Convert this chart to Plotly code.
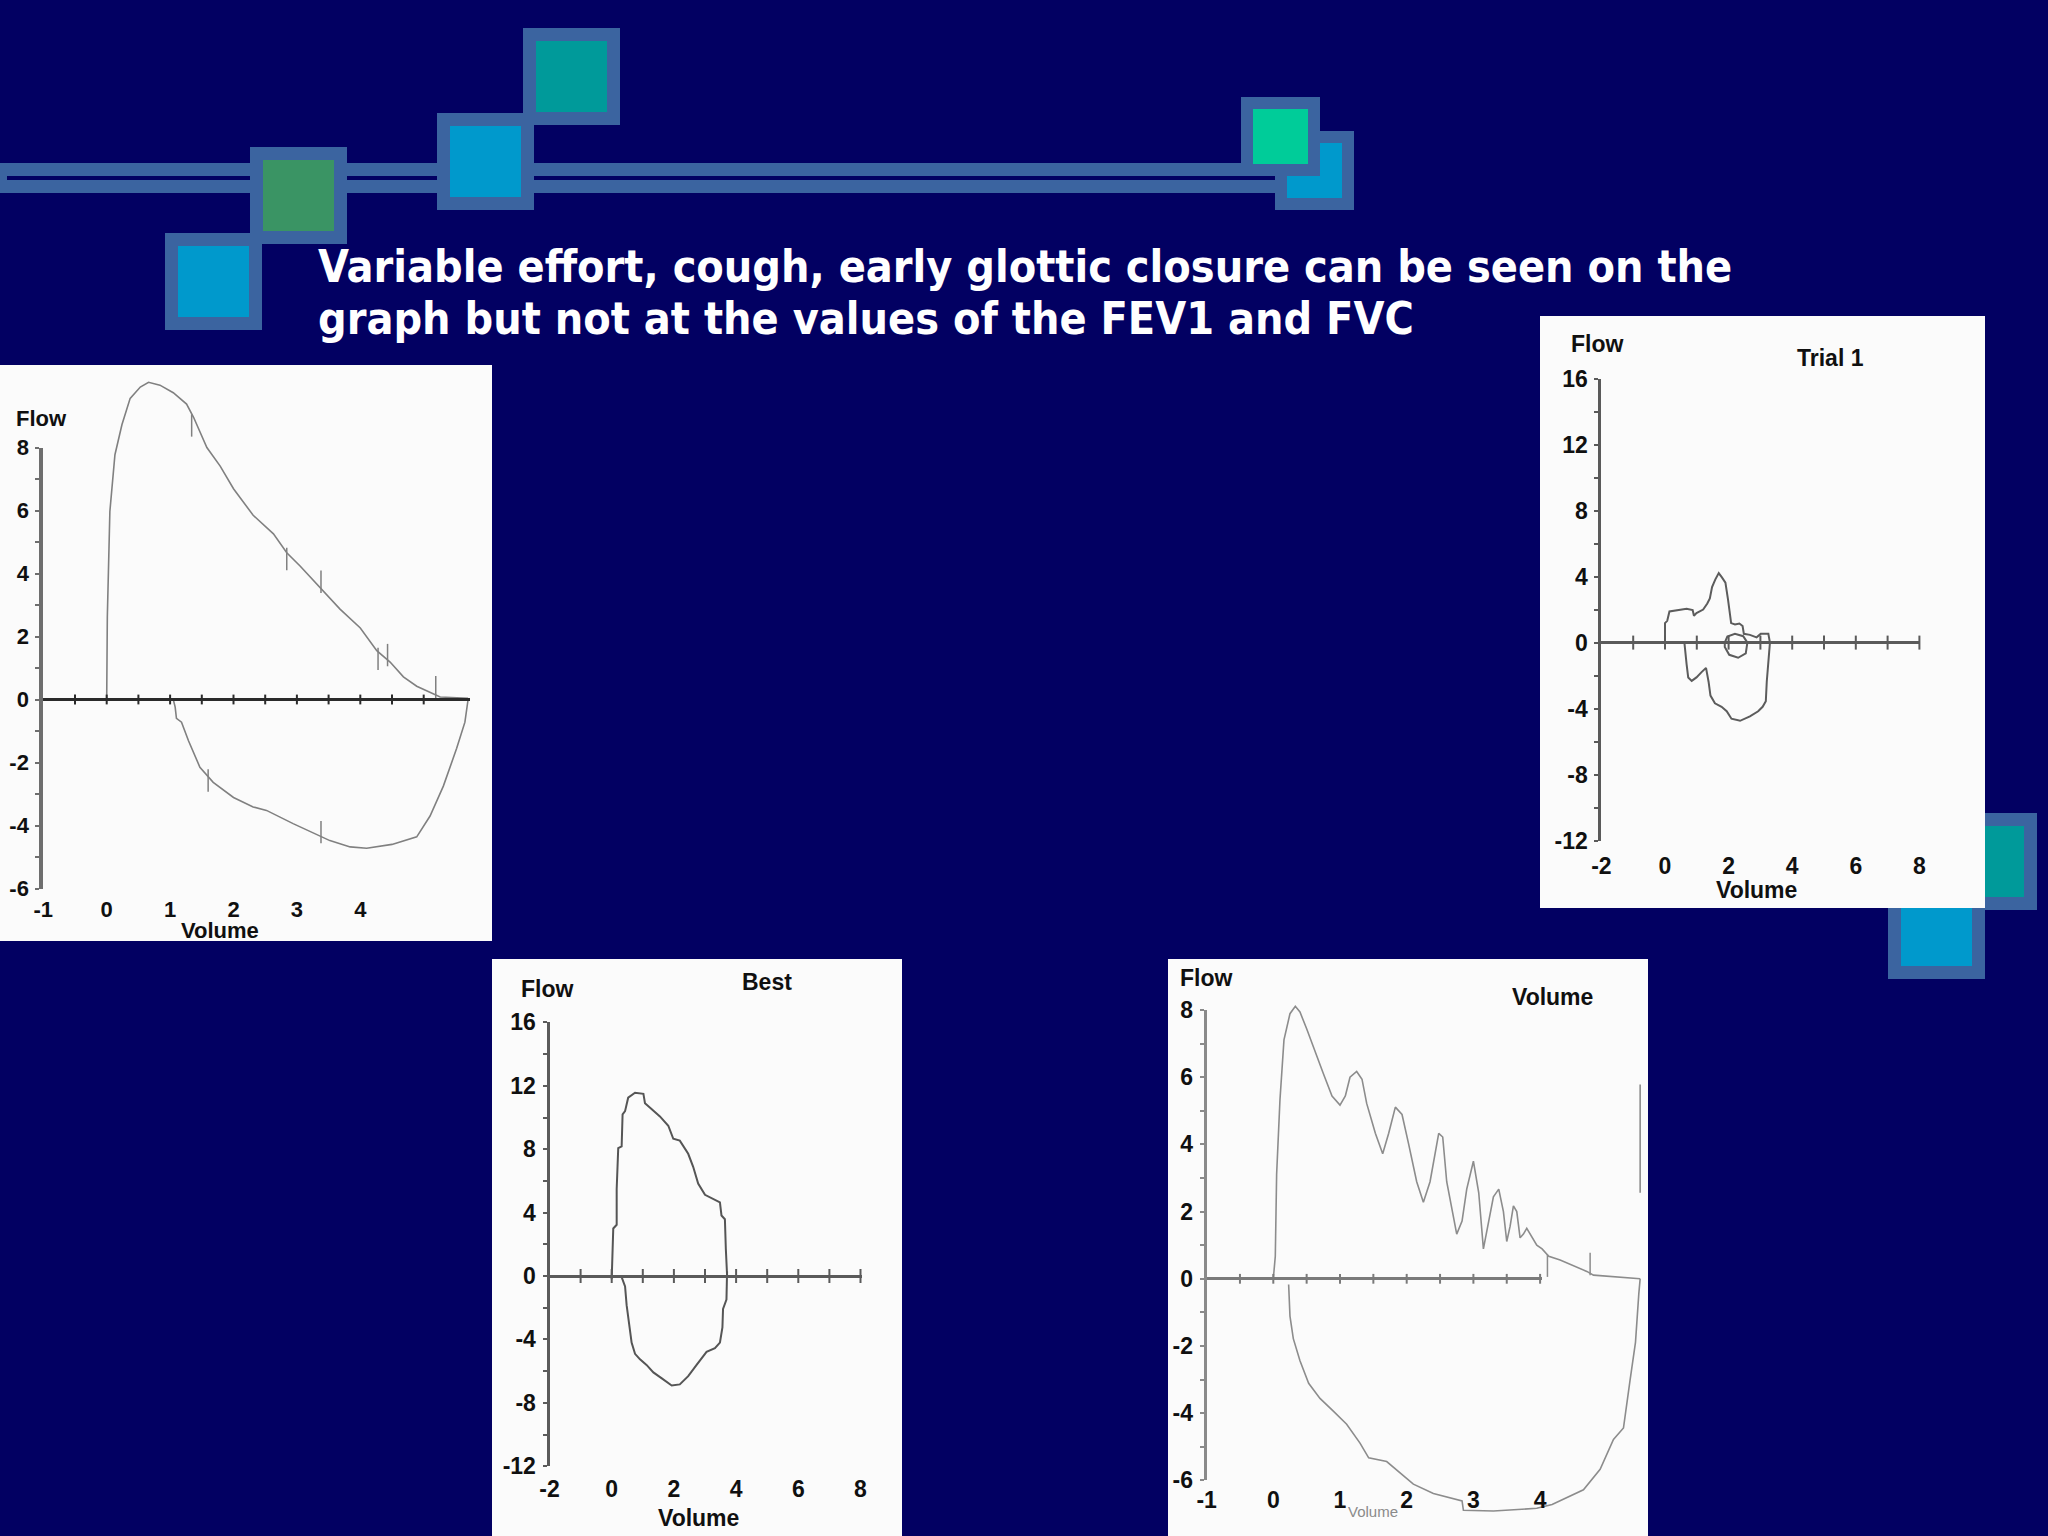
import plotly.graph_objects as go

# ---------------- data ----------------
# Panel A (top-left): flow-volume loop
A_exp_vol = [0, 0.01, 0.05, 0.13, 0.24, 0.37, 0.53, 0.66, 0.84, 1.05, 1.26, 1.37, 1.58, 1.79, 2.0, 2.31, 2.63,
             2.84, 3.05, 3.36, 3.68, 4.0, 4.26, 4.47, 4.68, 4.89, 5.15, 5.26, 5.7]
A_exp_flow = [0, 2.63, 5.97, 7.77, 8.72, 9.56, 9.92, 10.07, 9.98, 9.74, 9.38, 8.96, 8.0, 7.41, 6.69, 5.85, 5.26,
              4.66, 4.24, 3.58, 2.87, 2.27, 1.55, 1.19, 0.72, 0.42, 0.18, 0.08, 0.04]
A_insp_vol = [1.05, 1.08, 1.1, 1.18, 1.29, 1.37, 1.47, 1.68, 2.0, 2.31, 2.52, 2.94, 3.26, 3.52, 3.84, 4.1, 4.5,
              4.89, 5.1, 5.31, 5.52, 5.65, 5.7]
A_insp_flow = [0, -0.24, -0.6, -0.72, -1.31, -1.67, -2.15, -2.63, -3.11, -3.41, -3.52, -3.94, -4.24, -4.48, -4.68,
               -4.72, -4.6, -4.36, -3.7, -2.75, -1.55, -0.72, 0.0]
A_mark_vol = [1.34, 2.84, 3.38, 4.28, 4.43, 5.19, 1.60, 3.38]
A_mark_flow = [8.70, 4.46, 3.74, 1.29, 1.41, 0.39, -2.57, -4.21]

# Panel B (Trial 1)
B_exp_vol = [0.0, 0.0, 0.07, 0.14, 0.68, 0.87, 0.91, 0.99, 1.2, 1.33, 1.41, 1.48, 1.58, 1.69, 1.79, 1.9, 1.98,
             2.04, 2.08, 2.2, 2.34, 2.44, 2.48, 2.67, 2.88, 3.01, 3.25, 3.3]
B_exp_flow = [-0.13, 1.18, 1.32, 1.89, 2.05, 1.97, 1.63, 1.79, 2.0, 2.37, 2.68, 3.37, 3.82, 4.21, 3.95, 3.63, 2.63,
              1.84, 1.18, 1.1, 1.16, 1.0, 0.53, 0.47, 0.32, 0.53, 0.53, 0.0]
B_insp_vol = [3.3, 3.25, 3.2, 3.17, 3.07, 2.93, 2.67, 2.36, 2.09, 1.94, 1.78, 1.57, 1.43, 1.37, 1.29, 1.15, 0.99,
              0.84, 0.73, 0.68, 0.63, 0.61]
B_insp_flow = [0, -1.05, -2.37, -3.55, -3.89, -4.16, -4.47, -4.74, -4.61, -4.16, -3.89, -3.68, -3.21, -2.37, -1.53,
               -1.79, -2.11, -2.32, -2.11, -1.32, -0.26, 0]
B_cough_vol = [1.88, 1.96, 2.2, 2.46, 2.59, 2.54, 2.3, 2.02, 1.88, 1.88]
B_cough_flow = [0, 0.37, 0.53, 0.39, 0, -0.66, -0.92, -0.74, -0.26, 0]

# Panel C (Best)
C_exp_vol = [0, 0.02, 0.05, 0.16, 0.16, 0.21, 0.32, 0.35, 0.43, 0.53, 0.75, 1.02, 1.07, 1.28, 1.55, 1.82, 1.98,
             2.19, 2.46, 2.62, 2.78, 3.0, 3.26, 3.48, 3.53, 3.64, 3.67, 3.71]
C_exp_flow = [-0.2, 1.23, 3.0, 3.23, 5.47, 8.07, 8.18, 10.2, 10.4, 11.25, 11.56, 11.49, 10.9, 10.54, 10.07, 9.48,
              8.66, 8.54, 7.71, 6.89, 5.83, 5.12, 4.88, 4.65, 3.82, 3.58, 1.7, 0.05]
C_insp_vol = [0.32, 0.43, 0.48, 0.57, 0.64, 0.75, 0.91, 1.12, 1.34, 1.6, 1.93, 2.19, 2.46, 2.73, 3.05, 3.32, 3.48,
              3.56, 3.58, 3.69, 3.71, 3.71]
C_insp_flow = [-0.07, -0.66, -1.84, -3.02, -4.2, -4.91, -5.26, -5.61, -6.08, -6.44, -6.91, -6.84, -6.32, -5.61,
               -4.79, -4.55, -4.2, -3.25, -2.08, -1.49, -0.19, 0.28]

# Panel D (Volume)
D_exp_vol = [0, 0.03, 0.05, 0.1, 0.16, 0.25, 0.33, 0.4, 0.5, 0.63, 0.75, 0.88, 1.0, 1.08, 1.15, 1.25, 1.33, 1.4,
             1.53, 1.64, 1.73, 1.83, 1.93, 2.03, 2.15, 2.25, 2.35, 2.48, 2.54, 2.6, 2.7, 2.75, 2.83, 2.9, 3.0,
             3.08, 3.15, 3.23, 3.3, 3.38, 3.45, 3.5, 3.55, 3.6, 3.65, 3.7, 3.75, 3.8, 3.88, 3.95, 4.03, 4.13,
             4.3, 4.5, 4.7, 4.8, 5.1, 5.5]
D_exp_flow = [0, 0.67, 3.11, 5.33, 7.11, 7.89, 8.11, 7.94, 7.44, 6.78, 6.11, 5.44, 5.17, 5.44, 6.0, 6.17, 5.94,
              5.22, 4.33, 3.72, 4.33, 5.11, 4.89, 4.0, 2.89, 2.28, 2.89, 4.33, 4.22, 2.89, 1.78, 1.33, 1.72, 2.67,
              3.5, 2.56, 0.89, 1.78, 2.44, 2.67, 2.0, 1.11, 1.56, 2.17, 2.0, 1.22, 1.33, 1.5, 1.22, 1.0, 0.89,
              0.67, 0.56, 0.39, 0.22, 0.11, 0.06, 0]
D_insp_vol = [0.23, 0.25, 0.3, 0.4, 0.53, 0.7, 0.9, 1.1, 1.3, 1.43, 1.7, 1.9, 2.1, 2.4, 2.83, 2.85, 3.3, 3.95,
              4.18, 4.65, 4.9, 5.1, 5.25, 5.35, 5.43, 5.48, 5.5]
D_insp_flow = [-0.17, -1.11, -1.78, -2.44, -3.11, -3.56, -3.94, -4.33, -4.89, -5.33, -5.44, -5.78, -6.11, -6.39,
               -6.61, -6.89, -6.91, -6.83, -6.72, -6.28, -5.67, -4.78, -4.44, -3.0, -1.89, -0.44, 0]
D_spike_vol = [5.5, 5.5]
D_spike_flow = [5.78, 2.56]
D_mark_vol = [4.11, 4.75]
D_mark_flow = [0.39, 0.44]

# Axis ticks / labels
A_xtick_vals = [-1, 0, 1, 2, 3, 4]
A_xtick_text = ["-1", "0", "1", "2", "3", "4"]
A_xmarks = [-0.5, 0, 0.5, 1, 1.5, 2, 2.5, 3, 3.5, 4, 4.5, 5]
A_ytick_vals = [-6, -4, -2, 0, 2, 4, 6, 8]
A_ytick_text = ["-6", "-4", "-2", "0", "2", "4", "6", "8"]
A_yminor = [-5, -3, -1, 1, 3, 5, 7]

B_xtick_vals = [-2, 0, 2, 4, 6, 8]
B_xtick_text = ["-2", "0", "2", "4", "6", "8"]
B_xmarks = [-1, 0, 1, 2, 3, 4, 5, 6, 7, 8]
B_ytick_vals = [-12, -8, -4, 0, 4, 8, 12, 16]
B_ytick_text = ["-12", "-8", "-4", "0", "4", "8", "12", "16"]
B_yminor = [-10, -6, -2, 2, 6, 10, 14]

C_xtick_vals = [-2, 0, 2, 4, 6, 8]
C_xtick_text = ["-2", "0", "2", "4", "6", "8"]
C_xmarks = [-1, 0, 1, 2, 3, 4, 5, 6, 7, 8]
C_ytick_vals = [-12, -8, -4, 0, 4, 8, 12, 16]
C_ytick_text = ["-12", "-8", "-4", "0", "4", "8", "12", "16"]
C_yminor = [-10, -6, -2, 2, 6, 10, 14]

D_xtick_vals = [-1, 0, 1, 2, 3, 4]
D_xtick_text = ["-1", "0", "1", "2", "3", "4"]
D_xmarks = [-0.5, 0, 0.5, 1, 1.5, 2, 2.5, 3, 3.5, 4]
D_ytick_vals = [-6, -4, -2, 0, 2, 4, 6, 8]
D_ytick_text = ["-6", "-4", "-2", "0", "2", "4", "6", "8"]
D_yminor = [-5, -3, -1, 1, 3, 5, 7]

TITLE_1 = "Variable effort, cough, early glottic closure can be seen on the"
TITLE_2 = "graph but not at the values of the FEV1 and FVC"

# ---------------- geometry / style ----------------
W, H = 2048, 1536
NAVY = "#020062"
BORDER = "#3b64a0"
PANEL = "#fbfbfb"


def px(x):
    return x / W


def py(y):
    return 1 - y / H


LABEL_FONT = "Liberation Sans, Arial, sans-serif"

panels = [
    dict(rect=(0, 365, 492, 941), X0=106.7, sx=63.4, Y0=699.5, sy=31.5, xax=(-1, 5.73), yax=(-6, 8),
         xv=A_xtick_vals, xt=A_xtick_text, xm=A_xmarks, yv=A_ytick_vals, yt=A_ytick_text, ym=A_yminor,
         fs=22, ylw=4, ylc="#6e6e6e", zlw=3, zlc="#2a2a2a", mk=7, xstand=5),
    dict(rect=(1540, 316, 1985, 908), X0=1665, sx=31.8, Y0=642.6, sy=16.5, xax=(-2, 8), yax=(-12, 16),
         xv=B_xtick_vals, xt=B_xtick_text, xm=B_xmarks, yv=B_ytick_vals, yt=B_ytick_text, ym=B_yminor,
         fs=23, ylw=3, ylc="#5a5a5a", zlw=3, zlc="#5a5a5a", mk=10, xstand=9),
    dict(rect=(492, 959, 902, 1536), X0=611.7, sx=31.1, Y0=1276, sy=15.85, xax=(-2, 8.05), yax=(-12, 16),
         xv=C_xtick_vals, xt=C_xtick_text, xm=C_xmarks, yv=C_ytick_vals, yt=C_ytick_text, ym=C_yminor,
         fs=23, ylw=3, ylc="#5a5a5a", zlw=3, zlc="#5a5a5a", mk=10, xstand=7),
    dict(rect=(1168, 959, 1648, 1536), X0=1273.3, sx=66.7, Y0=1278.8, sy=33.6, xax=(-1, 4.03), yax=(-6, 8),
         xv=D_xtick_vals, xt=D_xtick_text, xm=D_xmarks, yv=D_ytick_vals, yt=D_ytick_text, ym=D_yminor,
         fs=23, ylw=3, ylc="#8a8a8a", zlw=3, zlc="#7a7a7a", mk=7, xstand=4),
]

fig = go.Figure()
layout = dict(width=W, height=H, margin=dict(l=0, r=0, t=0, b=0), paper_bgcolor=NAVY,
              plot_bgcolor="rgba(0,0,0,0)", showlegend=False, template="none")

for i, p in enumerate(panels):
    n = i + 1          # data subplot
    m = i + 5          # axis-display subplot
    L, T, R, B = p["rect"]
    X0, sx, Y0, sy = p["X0"], p["sx"], p["Y0"], p["sy"]
    sfx_n = "" if n == 1 else str(n)
    layout["xaxis" + sfx_n] = dict(domain=[px(L), px(R)], range=[(L - X0) / sx, (R - X0) / sx],
                                   visible=False, anchor="y" + sfx_n, fixedrange=True)
    layout["yaxis" + sfx_n] = dict(domain=[py(B), py(T)], range=[(Y0 - B) / sy, (Y0 - T) / sy],
                                   visible=False, anchor="x" + sfx_n, fixedrange=True)
    xa0, xa1 = p["xax"]
    ya0, ya1 = p["yax"]
    tf = dict(family=LABEL_FONT, size=p["fs"], color="#101010", weight="bold")
    layout["xaxis" + str(m)] = dict(domain=[px(X0 + xa0 * sx), px(X0 + xa1 * sx)], range=[xa0, xa1],
                                    anchor="y" + str(m), showline=False, showgrid=False, zeroline=False,
                                    tickmode="array", tickvals=p["xv"], ticktext=p["xt"], ticks="",
                                    tickfont=tf, ticklabelstandoff=p["xstand"], fixedrange=True,
                                    automargin=False)
    layout["yaxis" + str(m)] = dict(domain=[py(Y0 - ya0 * sy), py(Y0 - ya1 * sy)], range=[ya0, ya1],
                                    anchor="x" + str(m), showline=True, linecolor=p["ylc"],
                                    linewidth=p["ylw"], showgrid=False, zeroline=True,
                                    zerolinecolor=p["zlc"], zerolinewidth=p["zlw"],
                                    tickmode="array", tickvals=p["yv"], ticktext=p["yt"],
                                    ticks="outside", ticklen=4, tickwidth=2, tickcolor=p["ylc"],
                                    minor=dict(tickvals=p["ym"], ticks="outside", ticklen=4, tickwidth=2,
                                               tickcolor=p["ylc"]),
                                    tickfont=tf, ticklabelstandoff=2, fixedrange=True, automargin=False)
    fig.add_trace(go.Scatter(x=p["xm"], y=[0] * len(p["xm"]), mode="markers",
                             marker=dict(symbol="line-ns", size=p["mk"],
                                         line=dict(width=2, color=p["zlc"])),
                             xaxis="x" + str(m), yaxis="y" + str(m), cliponaxis=False,
                             hoverinfo="skip"))


def curve(x, y, n, color, width):
    sfx = "" if n == 1 else str(n)
    fig.add_trace(go.Scatter(x=x, y=y, mode="lines", line=dict(color=color, width=width),
                             xaxis="x" + sfx, yaxis="y" + sfx, hoverinfo="skip"))


def marks(x, y, n, color, size):
    sfx = "" if n == 1 else str(n)
    fig.add_trace(go.Scatter(x=x, y=y, mode="markers",
                             marker=dict(symbol="line-ns", size=size, line=dict(width=1.5, color=color)),
                             xaxis="x" + sfx, yaxis="y" + sfx, hoverinfo="skip"))


CA, CB, CC, CD = "#808080", "#5c5c5c", "#555555", "#8c8c8c"
curve(A_exp_vol, A_exp_flow, 1, CA, 1.6)
curve(A_insp_vol, A_insp_flow, 1, CA, 1.6)
marks(A_mark_vol, A_mark_flow, 1, CA, 16)
curve(B_exp_vol, B_exp_flow, 2, CB, 2)
curve(B_insp_vol, B_insp_flow, 2, CB, 2)
curve(B_cough_vol, B_cough_flow, 2, CB, 2)
curve(C_exp_vol, C_exp_flow, 3, CC, 2)
curve(C_insp_vol, C_insp_flow, 3, CC, 2)
curve(D_exp_vol, D_exp_flow, 4, CD, 1.6)
curve(D_insp_vol, D_insp_flow, 4, CD, 1.6)
curve(D_spike_vol, D_spike_flow, 4, CD, 1.6)
marks(D_mark_vol, D_mark_flow, 4, CD, 16)

# ---------------- decorations (shapes) ----------------
shapes = []


def rect(x0, y0, x1, y1, color):
    shapes.append(dict(type="rect", xref="paper", yref="paper", x0=px(x0), x1=px(x1), y0=py(y1), y1=py(y0),
                       fillcolor=color, line=dict(width=0), layer="below"))


def box(x0, y0, size, fill, b=13):
    rect(x0, y0, x0 + size, y0 + size, BORDER)
    rect(x0 + b, y0 + b, x0 + size - b, y0 + size - b, fill)


BLUE, GREEN, TEAL, MINT = "#0099cc", "#3a9464", "#009a9a", "#00cc99"
rect(0, 163, 1280, 193, BORDER)
rect(7, 176, 1276, 180, NAVY)
box(165, 233, 97, BLUE)
box(250, 147, 97, GREEN)
box(437, 113, 97, BLUE)
box(523, 28, 97, TEAL)
box(1275, 131, 79, BLUE, 12)
box(1241, 97, 79, MINT, 12)
box(1940, 813, 97, TEAL)
box(1888, 882, 97, BLUE)
# white chart panels
for p in panels:
    L, T, R, B = p["rect"]
    rect(L, T, R, B, PANEL)
layout["shapes"] = shapes

# ---------------- text ----------------
ann = []


def text(x, y, s, size, color="#101010", family=LABEL_FONT, weight="bold", xanchor="center"):
    ann.append(dict(x=px(x), y=py(y), xref="paper", yref="paper", text=s, showarrow=False,
                    xanchor=xanchor, yanchor="middle",
                    font=dict(family=family, size=size, color=color, weight=weight)))


TFONT = "DejaVu Sans Condensed, DejaVu Sans, sans-serif"
text(316, 266, TITLE_1, 44.5, color="#ffffff", family=TFONT, xanchor="left")
text(316, 318, TITLE_2, 44.5, color="#ffffff", family=TFONT, xanchor="left")

text(41, 418, "Flow", 22)
text(220, 930, "Volume", 22)
text(1597, 344, "Flow", 23)
text(1830, 358, "Trial 1", 23)
text(1756, 890, "Volume", 23)
text(547, 989, "Flow", 23)
text(767, 982, "Best", 23)
text(698, 1518, "Volume", 23)
text(1206, 978, "Flow", 23)
text(1552, 997, "Volume", 23)
text(1373, 1511, "Volume", 15, color="#8a8a8a", weight="normal")
layout["annotations"] = ann

fig.update_layout(**layout)
fig.write_html("out.html", config={"displayModeBar": False},
               post_script="document.body.style.margin='0';document.body.style.overflow='hidden';"
                           "document.body.style.background='" + NAVY + "';")
